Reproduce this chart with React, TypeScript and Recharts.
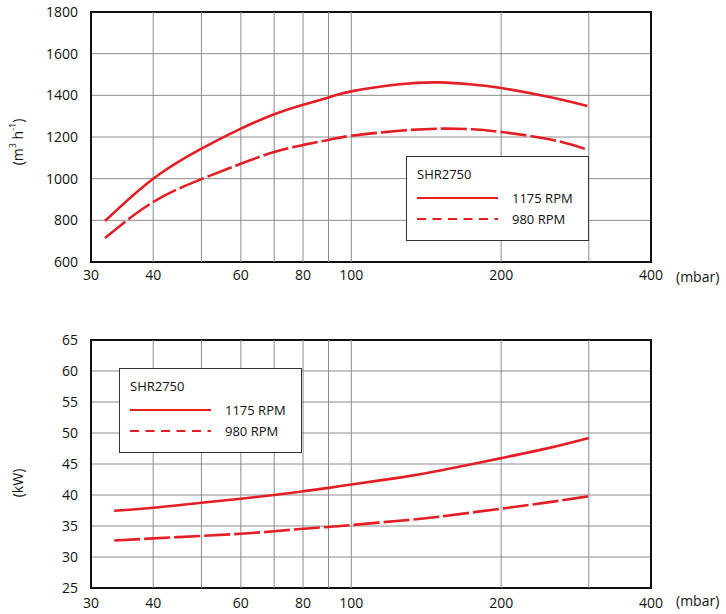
import {
  CartesianGrid,
  Legend,
  Line,
  LineChart,
  ReferenceArea,
  ReferenceLine,
  XAxis,
  YAxis,
} from "recharts";

const MODEL = "SHR2750";
const RED = "#e31e24";
const GRID = "#8c8c8c";
const INK = "#111";
const FONT = "'Open Sans', 'DejaVu Sans', sans-serif";

// x axis (mbar, log scale)
const xTicks = [30, 40, 60, 80, 100, 200, 400];
const xGrid = [40, 50, 60, 70, 80, 90, 100, 200, 300];

// top panel: flow (m3/h)
const flowPressure = [32, 40, 50, 60, 70, 80, 90, 100, 125, 150, 175, 200, 250, 298];
const flow1175 = [797, 1000, 1144, 1240, 1309, 1355, 1390, 1419, 1453, 1462, 1452, 1435, 1392, 1349];
const flow980 = [715, 888, 998, 1072, 1128, 1162, 1186, 1206, 1230, 1240, 1237, 1224, 1189, 1139];
const flowTicks = [600, 800, 1000, 1200, 1400, 1600, 1800];

// bottom panel: power (kW)
const powerPressure = [33.4, 40, 50, 60, 70, 80, 90, 100, 125, 150, 200, 250, 300];
const power1175 = [37.45, 37.95, 38.75, 39.4, 40.0, 40.6, 41.15, 41.7, 42.8, 43.9, 45.95, 47.6, 49.2];
const power980 = [32.65, 33.0, 33.4, 33.75, 34.15, 34.55, 34.85, 35.15, 35.85, 36.5, 37.8, 38.85, 39.8];
const powerTicks = [25, 30, 35, 40, 45, 50, 55, 60, 65];

const seriesNames = ["1175 RPM", "980 RPM"];

function toRows(xs: number[], a: number[], b: number[]) {
  return xs.map((x, i) => ({ x, s1175: a[i], s980: b[i] }));
}

const flowRows = toRows(flowPressure, flow1175, flow980);
const powerRows = toRows(powerPressure, power1175, power980);

function LegendBox() {
  return (
    <svg width={184} height={86} style={{ display: "block" }}>
      <rect x={0.5} y={0.5} width={182} height={84} fill="#fff" stroke="#333" strokeWidth={1} />
      <text x={11} y={18} fontSize={13} fontFamily={FONT} fill={INK} dominantBaseline="central">
        {MODEL}
      </text>
      {seriesNames.map((name, i) => (
        <g key={name}>
          <line
            x1={11}
            x2={92}
            y1={42 + i * 21}
            y2={42 + i * 21}
            stroke={RED}
            strokeWidth={2}
            strokeDasharray={i === 0 ? undefined : "9 6.5"}
          />
          <text
            x={106}
            y={42 + i * 21}
            fontSize={13}
            fontFamily={FONT}
            fill={INK}
            dominantBaseline="central"
          >
            {name}
          </text>
        </g>
      ))}
    </svg>
  );
}

function AxisTitle({ viewBox, dy, children }: any) {
  const cx = 17;
  const cy = viewBox.y + viewBox.height / 2 + dy;
  return (
    <text
      x={cx}
      y={cy}
      transform={`rotate(-90 ${cx} ${cy})`}
      textAnchor="middle"
      dominantBaseline="central"
      fontSize={14}
      fontFamily={FONT}
      fill={INK}
    >
      {children}
    </text>
  );
}

type PanelProps = {
  rows: { x: number; s1175: number; s980: number }[];
  yDomain: [number, number];
  yTicks: number[];
  height: number;
  top: number;
  bottom: number;
  xAxisHeight: number;
  xTickMargin: number;
  legendPos: { left: number; top: number };
  title: React.ReactNode;
  titleDy: number;
};

function Panel({
  rows,
  yDomain,
  yTicks,
  height,
  top,
  bottom,
  xAxisHeight,
  xTickMargin,
  legendPos,
  title,
  titleDy,
}: PanelProps) {
  const tickStyle = { fontSize: 14, fontFamily: FONT, fill: INK };
  return (
    <LineChart width={726} height={height} data={rows} margin={{ top, right: 75, left: 0, bottom }}>
      <CartesianGrid vertical={false} stroke={GRID} strokeWidth={1} />
      {xGrid.map((v) => (
        <ReferenceLine key={v} x={v} stroke={GRID} strokeWidth={1} />
      ))}
      <XAxis
        dataKey="x"
        type="number"
        scale="log"
        domain={[30, 400]}
        ticks={xTicks}
        allowDataOverflow
        height={xAxisHeight}
        tickLine={false}
        axisLine={false}
        tickSize={6}
        tickMargin={xTickMargin}
        tick={tickStyle}
        tickFormatter={(v) => String(v)}
        label={{ value: "(mbar)", position: "right", offset: 25, style: tickStyle }}
      />
      <YAxis
        type="number"
        domain={yDomain}
        ticks={yTicks}
        width={91}
        tickLine={false}
        axisLine={false}
        tickSize={6}
        tickMargin={7}
        tick={tickStyle}
        interval={0}
        label={{ content: (p: any) => <AxisTitle viewBox={p.viewBox} dy={titleDy}>{title}</AxisTitle> }}
      />
      <Line
        type="natural"
        dataKey="s1175"
        name={seriesNames[0]}
        stroke={RED}
        strokeWidth={2.6}
        dot={false}
        isAnimationActive={false}
      />
      <Line
        type="natural"
        dataKey="s980"
        name={seriesNames[1]}
        stroke={RED}
        strokeWidth={2.6}
        strokeDasharray="26 4"
        dot={false}
        isAnimationActive={false}
      />
      <ReferenceArea
        x1={30}
        x2={400}
        y1={yDomain[0]}
        y2={yDomain[1]}
        fill="none"
        fillOpacity={0}
        stroke={INK}
        strokeWidth={2}
        ifOverflow="visible"
      />
      <Legend
        layout="horizontal"
        verticalAlign="middle"
        align="center"
        content={() => <LegendBox />}
        wrapperStyle={{ position: "absolute", left: legendPos.left, top: legendPos.top, width: 184, height: 86 }}
      />
    </LineChart>
  );
}

export default function App() {
  return (
    <div style={{ position: "absolute", left: 0, top: 0, width: 726, height: 614, background: "#fff" }}>
      <Panel
        rows={flowRows}
        yDomain={[600, 1800]}
        yTicks={flowTicks}
        height={300}
        top={12}
        bottom={8}
        xAxisHeight={30}
        xTickMargin={2}
        legendPos={{ left: 406, top: 156 }}
        titleDy={5}
        title={
          <>
            <tspan>(m</tspan>
            <tspan dy={-5} fontSize={9}>3</tspan>
            <tspan dy={5}> h</tspan>
            <tspan dy={-5} fontSize={9}>-1</tspan>
            <tspan dy={5}>)</tspan>
          </>
        }
      />
      <Panel
        rows={powerRows}
        yDomain={[25, 65]}
        yTicks={powerTicks}
        height={314}
        top={40}
        bottom={0}
        xAxisHeight={26}
        xTickMargin={4}
        legendPos={{ left: 119, top: 68 }}
        titleDy={19}
        title="(kW)"
      />
    </div>
  );
}
